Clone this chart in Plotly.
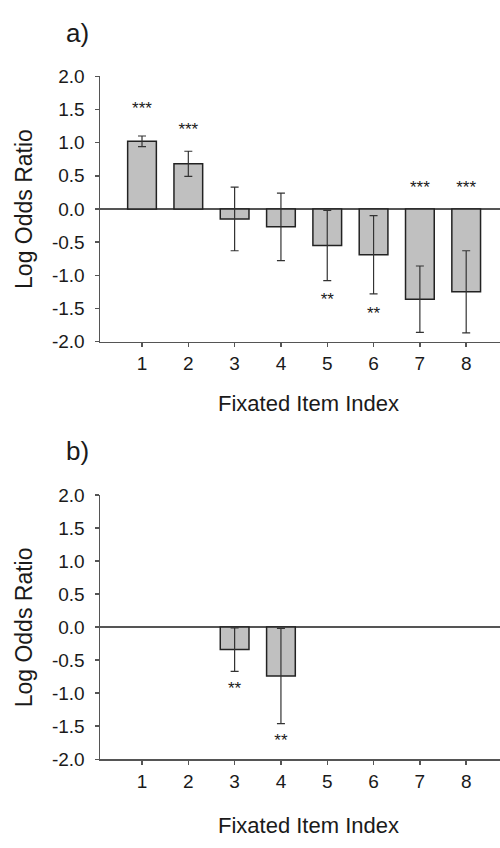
import plotly.graph_objects as go

items = [1, 2, 3, 4, 5, 6, 7, 8]
tick_labels = ["1", "2", "3", "4", "5", "6", "7", "8"]
y_ticks = [-2.0, -1.5, -1.0, -0.5, 0.0, 0.5, 1.0, 1.5, 2.0]
y_tick_labels = ["-2.0", "-1.5", "-1.0", "-0.5", "0.0", "0.5", "1.0", "1.5", "2.0"]

a_vals = [1.02, 0.68, -0.15, -0.27, -0.55, -0.69, -1.36, -1.25]
a_err = [0.08, 0.19, 0.48, 0.51, 0.53, 0.59, 0.50, 0.62]
a_sig = ["***", "***", "", "", "**", "**", "***", "***"]
a_sig_y = [1.50, 1.18, None, None, -1.38, -1.59, 0.31, 0.31]

b_vals = [None, None, -0.34, -0.74, None, None, None, None]
b_err = [0, 0, 0.33, 0.72, 0, 0, 0, 0]
b_sig = ["", "", "**", "**", "", "", "", ""]
b_sig_y = [None, None, -0.95, -1.73, None, None, None, None]

panel_labels = ["a)", "b)"]
x_title = "Fixated Item Index"
y_title = "Log Odds Ratio"

FONT = "Liberation Sans, Arial, sans-serif"
AX = "#555555"
TXT = "#1a1a1a"

fig = go.Figure()

panels = [
    (a_vals, a_err, a_sig, a_sig_y, "x", "y"),
    (b_vals, b_err, b_sig, b_sig_y, "x2", "y2"),
]
for vals, err, sig, sig_y, xa, ya in panels:
    fig.add_trace(go.Bar(
        x=items, y=vals, width=0.62, xaxis=xa, yaxis=ya,
        marker=dict(color="#c0c0c0", line=dict(color="#222222", width=1.5)),
        error_y=dict(type="data", array=err, visible=True, color="#333333",
                     thickness=1.2, width=4),
        showlegend=False, hoverinfo="skip",
    ))
    fig.add_trace(go.Scatter(
        x=items, y=sig_y, text=sig, mode="text", xaxis=xa, yaxis=ya,
        textposition="middle center",
        textfont=dict(family=FONT, size=17, color=TXT),
        showlegend=False, hoverinfo="skip",
    ))

xcommon = dict(
    range=[0.093, 8.73], tickmode="array", tickvals=items, ticktext=tick_labels,
    showline=True, linecolor=AX, linewidth=1.5, ticks="outside", ticklen=4,
    tickcolor=AX, tickwidth=1.5, showgrid=False, zeroline=False,
    tickfont=dict(family=FONT, size=19, color=TXT), fixedrange=True,
)
ycommon = dict(
    range=[-2.0, 2.0], tickmode="array", tickvals=y_ticks, ticktext=y_tick_labels,
    showline=True, linecolor=AX, linewidth=1.5, ticks="outside", ticklen=4,
    tickcolor=AX, tickwidth=1.5, showgrid=False, zeroline=True,
    zerolinecolor=AX, zerolinewidth=1.5, ticklabelstandoff=6,
    tickfont=dict(family=FONT, size=19, color=TXT), fixedrange=True,
)

H = 848.0
fig.update_layout(
    width=500, height=848,
    margin=dict(l=0, r=0, t=0, b=0),
    paper_bgcolor="white", plot_bgcolor="white",
    bargap=0,
    xaxis=dict(domain=[0.2, 1.0], anchor="y", **xcommon),
    yaxis=dict(domain=[1 - 340 / H, 1 - 68 / H], anchor="x", **ycommon),
    xaxis2=dict(domain=[0.2, 1.0], anchor="y2", **xcommon),
    yaxis2=dict(domain=[1 - 768.3 / H, 1 - 497.3 / H], anchor="x2", **ycommon),
)

annots = []
for lab, ycen, ymid, xt in [(panel_labels[0], 24, 204, 404), (panel_labels[1], 452, 633, 836)]:
    annots.append(dict(text=lab, x=77 / 500, y=1 - ycen / H, xref="paper", yref="paper",
                       showarrow=False, xanchor="center", yanchor="middle",
                       font=dict(family=FONT, size=26, color=TXT)))
    annots.append(dict(text=y_title, x=24 / 500, y=1 - ymid / H, xref="paper", yref="paper",
                       showarrow=False, textangle=-90, xanchor="center", yanchor="middle",
                       font=dict(family=FONT, size=23, color=TXT)))
    annots.append(dict(text=x_title, x=308 / 500, y=1 - xt / H, xref="paper", yref="paper",
                       showarrow=False, xanchor="center", yanchor="middle",
                       font=dict(family=FONT, size=22, color=TXT)))
fig.update_layout(annotations=annots)

fig.write_html(
    "out.html",
    config={"displayModeBar": False, "staticPlot": True},
    post_script="document.body.style.margin='0';document.body.style.overflow='hidden';",
)
